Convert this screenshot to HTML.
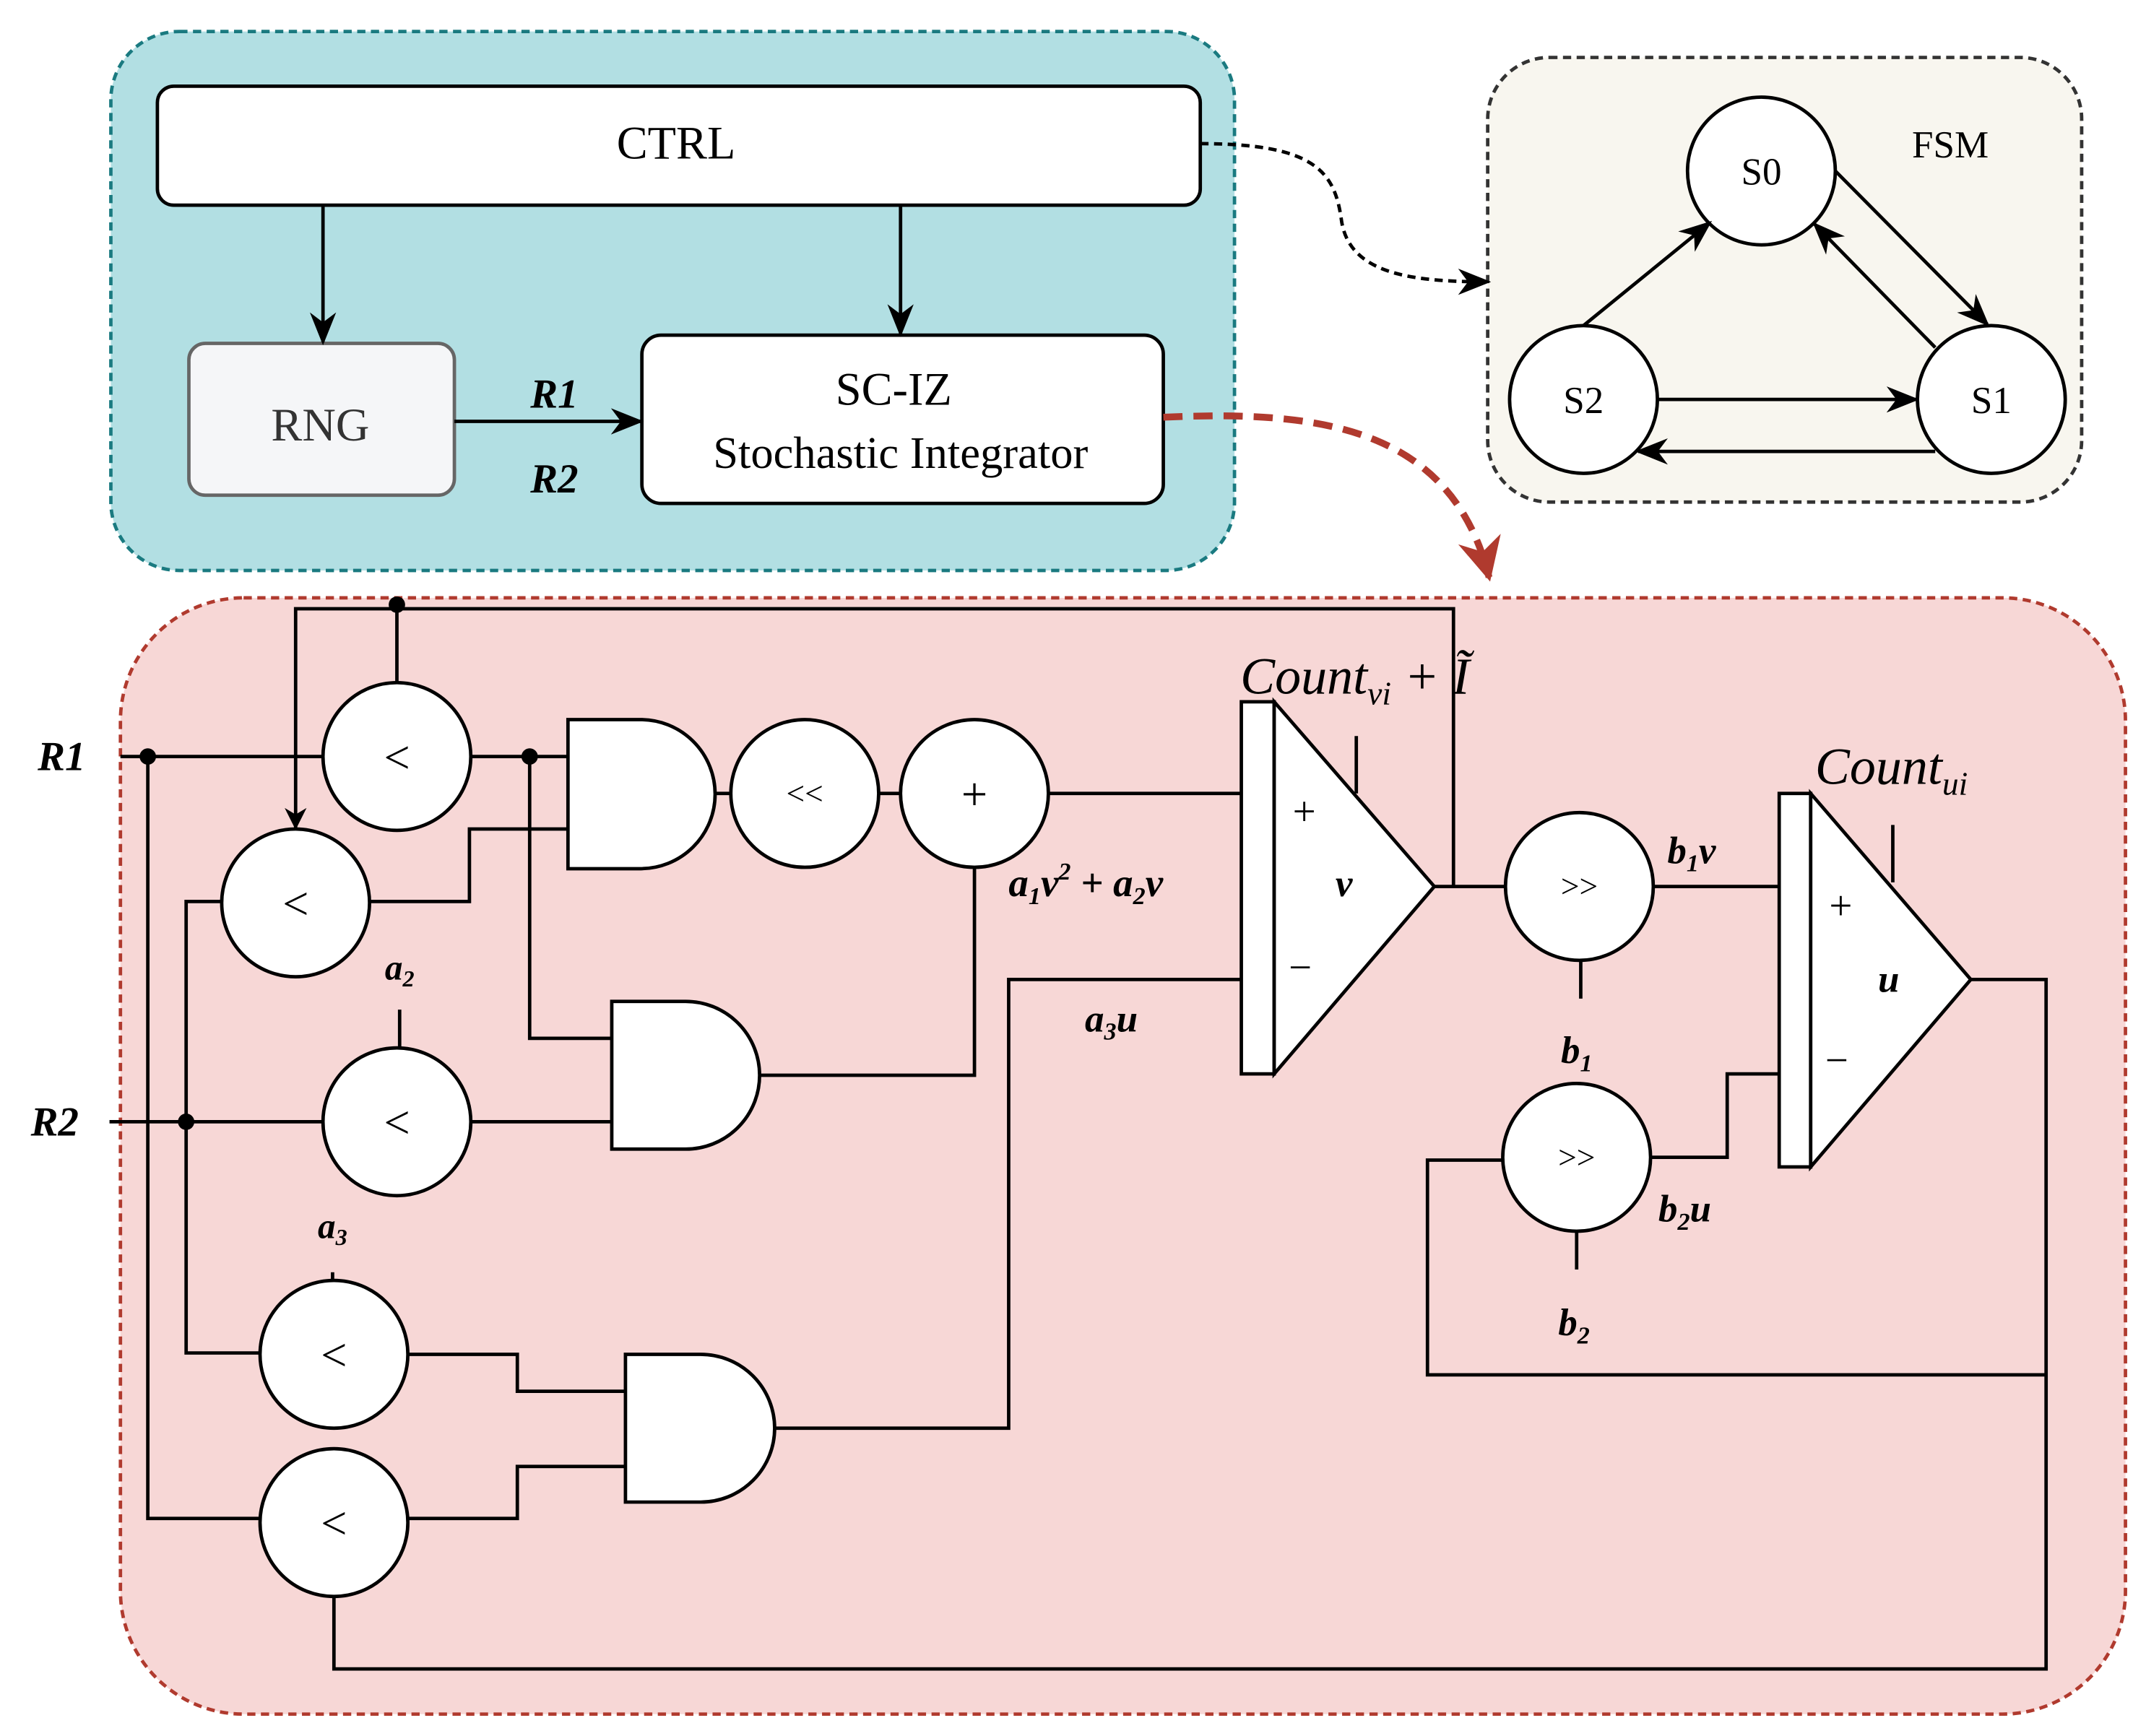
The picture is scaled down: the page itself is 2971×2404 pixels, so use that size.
<!DOCTYPE html>
<html><head><meta charset="utf-8"><style>
html,body{margin:0;padding:0;background:#fff}
svg{display:block}
text{font-family:"Liberation Serif",serif;fill:#000}
.m{font-style:italic;font-weight:bold}
</style></head><body>
<svg width="2971" height="2404" viewBox="0 0 1568 1269" preserveAspectRatio="none" xmlns="http://www.w3.org/2000/svg">
<defs>
<marker id="a" viewBox="0 0 10 10" refX="9" refY="5" markerWidth="16" markerHeight="16" markerUnits="userSpaceOnUse" orient="auto"><path d="M0,0 L10,5 L0,10 L3,5 z" fill="#000"/></marker>
<marker id="a2" viewBox="0 0 10 10" refX="9" refY="5" markerWidth="24" markerHeight="24" markerUnits="userSpaceOnUse" orient="auto"><path d="M0,1 L10,5 L0,9 L3,5 z" fill="#000"/></marker>
<marker id="r" viewBox="0 0 10 10" refX="9" refY="5" markerWidth="32" markerHeight="32" markerUnits="userSpaceOnUse" orient="auto"><path d="M0,0 L10,5 L0,10 L3,5 z" fill="#b03a2e"/></marker>
</defs>
<rect x="81" y="23" width="821" height="394" rx="50" fill="#b2dfe3" stroke="#1a7a80" stroke-width="2.5" stroke-dasharray="6,4"/>
<rect x="115" y="63" width="762" height="87" rx="12" fill="#fff" stroke="#000" stroke-width="2.5"/>
<text x="494" y="116" font-size="34" text-anchor="middle">CTRL</text>
<rect x="138" y="251" width="194" height="111" rx="12" fill="#f5f6f8" stroke="#666" stroke-width="2.5"/>
<text x="234" y="322" font-size="34" text-anchor="middle" style="fill:#333">RNG</text>
<rect x="469" y="245" width="381" height="123" rx="14" fill="#fff" stroke="#000" stroke-width="2.5"/>
<text x="653" y="296" font-size="34" text-anchor="middle">SC-IZ</text>
<text x="658" y="342" font-size="33" text-anchor="middle">Stochastic Integrator</text>
<g stroke="#000" stroke-width="2.5" fill="none">
<line x1="236" y1="150" x2="236" y2="250" marker-end="url(#a2)"/>
<line x1="658" y1="150" x2="658" y2="244" marker-end="url(#a2)"/>
<line x1="332" y1="308" x2="468" y2="308" marker-end="url(#a2)"/>
</g>
<text x="405" y="298" font-size="30" class="m" text-anchor="middle">R1</text>
<text x="405" y="360" font-size="30" class="m" text-anchor="middle">R2</text>
<rect x="1087" y="42" width="434" height="325" rx="45" fill="#f8f6ef" stroke="#333" stroke-width="2.5" stroke-dasharray="6,4"/>
<text x="1425" y="115" font-size="28" text-anchor="middle">FSM</text>
<g stroke="#000" stroke-width="2.5" fill="#fff">
<circle cx="1287" cy="125" r="54"/><circle cx="1455" cy="292" r="54"/><circle cx="1157" cy="292" r="54"/>
</g>
<text x="1287" y="135" font-size="28" text-anchor="middle">S0</text>
<text x="1455" y="302" font-size="28" text-anchor="middle">S1</text>
<text x="1157" y="302" font-size="28" text-anchor="middle">S2</text>
<g stroke="#000" stroke-width="2.5" fill="none">
<line x1="1157" y1="238" x2="1249" y2="163" marker-end="url(#a2)"/>
<line x1="1341" y1="125" x2="1452" y2="237" marker-end="url(#a2)"/>
<line x1="1414" y1="254" x2="1326" y2="164" marker-end="url(#a2)"/>
<line x1="1211" y1="292" x2="1400" y2="292" marker-end="url(#a2)"/>
<line x1="1414" y1="330" x2="1197" y2="330" marker-end="url(#a2)"/>
<path d="M877,105 C960,105 975,125 980,160 C985,200 1030,206 1087,206" stroke-dasharray="6,4" marker-end="url(#a2)"/>
</g>
<rect x="88" y="437" width="1465" height="816" rx="90" fill="#f7d7d6" stroke="#b03a2e" stroke-width="2.5" stroke-dasharray="6,4"/>
<path d="M850,305 C960,300 1060,310 1088,422" stroke="#b03a2e" stroke-width="5" fill="none" stroke-dasharray="14,8" marker-end="url(#r)"/>
<g stroke="#000" stroke-width="2.5" fill="none">
<polyline points="88,553 237,553"/>
<polyline points="108,553 108,1110 191,1110"/>
<polyline points="290,442 290,499"/>
<polyline points="1062,648 1062,445 216,445 216,605" marker-end="url(#a)"/>
<polyline points="270,659 343,659 343,606 415,606"/>
<polyline points="345,553 415,553"/>
<polyline points="387,553 387,759 447,759"/>
<polyline points="522,580 534,580"/>
<polyline points="642,580 658,580"/>
<polyline points="766,580 907,580"/>
<polyline points="555,786 712,786 712,634"/>
<polyline points="80,820 237,820"/>
<polyline points="345,820 447,820"/>
<polyline points="136,820 136,659 162,659"/>
<polyline points="136,820 136,989 191,989"/>
<polyline points="292,738 292,766"/>
<polyline points="243,930 243,936"/>
<polyline points="298,990 378,990 378,1017 457,1017"/>
<polyline points="298,1110 378,1110 378,1072 457,1072"/>
<polyline points="566,1044 737,1044 737,716 907,716"/>
<polyline points="991,538 991,580"/>
<polyline points="1048,648 1100,648"/>
<polyline points="1155,702 1155,730"/>
<polyline points="1207,648 1300,648"/>
<polyline points="1383,603 1383,645"/>
<polyline points="1152,900 1152,928"/>
<polyline points="1206,846 1262,846 1262,785 1300,785"/>
<polyline points="1440,716 1495,716 1495,1220 244,1220 244,1167"/>
<polyline points="1495,1005 1043,1005 1043,848 1098,848"/>
</g>
<g fill="#000"><circle cx="290" cy="442" r="6"/><circle cx="108" cy="553" r="6"/><circle cx="387" cy="553" r="6"/><circle cx="136" cy="820" r="6"/></g>
<g stroke="#000" stroke-width="2.5" fill="#fff">
<circle cx="290" cy="553" r="54"/><circle cx="216" cy="660" r="54"/><circle cx="290" cy="820" r="54"/>
<circle cx="244" cy="990" r="54"/><circle cx="244" cy="1113" r="54"/>
<circle cx="588" cy="580" r="54"/><circle cx="712" cy="580" r="54"/>
<circle cx="1154" cy="648" r="54"/><circle cx="1152" cy="846" r="54"/>
<path d="M415,526 L468,526 A54,54 0 0 1 468,635 L415,635 Z"/>
<path d="M447,732 L501,732 A54,54 0 0 1 501,840 L447,840 Z"/>
<path d="M457,990 L512,990 A54,54 0 0 1 512,1098 L457,1098 Z"/>
<rect x="907" y="513" width="24" height="272"/>
<path d="M931,513 L1048,648 L931,785 Z"/>
<rect x="1300" y="580" width="23" height="273"/>
<path d="M1323,580 L1440,716 L1323,853 Z"/>
</g>
<g font-size="34" text-anchor="middle">
<text x="290" y="565">&lt;</text><text x="216" y="672">&lt;</text><text x="290" y="832">&lt;</text>
<text x="244" y="1002">&lt;</text><text x="244" y="1125">&lt;</text>
<text x="712" y="592">+</text>
</g>
<g font-size="24" text-anchor="middle" style="fill:#333">
<text x="588" y="588">&lt;&lt;</text><text x="1154" y="656">&gt;&gt;</text><text x="1152" y="854">&gt;&gt;</text>
</g>
<g font-size="30" text-anchor="middle">
<text x="953" y="603">+</text><text x="950" y="717">−</text>
<text x="1345" y="672">+</text><text x="1342" y="785">−</text>
</g>
<g class="m" text-anchor="middle">
<text x="982" y="655" font-size="28">v</text>
<text x="1380" y="725" font-size="28">u</text>
<text x="45" y="563" font-size="30">R1</text>
<text x="40" y="830" font-size="30">R2</text>
<text x="292" y="716" font-size="26">a<tspan font-size="17" dy="5">2</tspan></text>
<text x="243" y="905" font-size="26">a<tspan font-size="17" dy="5">3</tspan></text>
<text x="737" y="655" font-size="29" text-anchor="start">a<tspan font-size="18" dy="6">1</tspan><tspan dy="-6">v</tspan><tspan font-size="18" dy="-12">2</tspan><tspan dy="12"> + a</tspan><tspan font-size="18" dy="6">2</tspan><tspan dy="-6">v</tspan></text>
<text x="812" y="754" font-size="28">a<tspan font-size="18" dy="6">3</tspan><tspan dy="-6">u</tspan></text>
<text x="990" y="507" font-size="38" font-weight="normal">Count<tspan font-size="24" dy="8">vi</tspan><tspan dy="-8"> + Ĩ</tspan></text>
<text x="1382" y="573" font-size="38" font-weight="normal">Count<tspan font-size="24" dy="8">ui</tspan></text>
<text x="1236" y="631" font-size="28">b<tspan font-size="18" dy="6">1</tspan><tspan dy="-6">v</tspan></text>
<text x="1152" y="777" font-size="28">b<tspan font-size="18" dy="6">1</tspan></text>
<text x="1231" y="893" font-size="28">b<tspan font-size="18" dy="6">2</tspan><tspan dy="-6">u</tspan></text>
<text x="1150" y="976" font-size="28">b<tspan font-size="18" dy="6">2</tspan></text>
</g>
</svg>
</body></html>
